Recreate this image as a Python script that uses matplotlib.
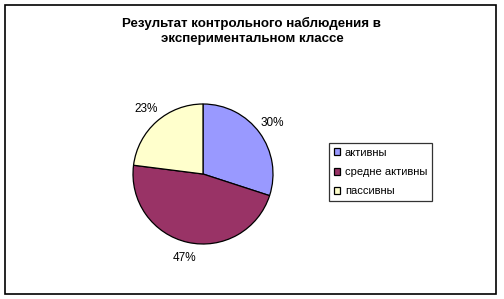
import matplotlib
matplotlib.use("Agg")
import matplotlib.pyplot as plt
from matplotlib.patches import Rectangle

plt.rcParams['font.family'] = ['Liberation Sans', 'DejaVu Sans']

title = "Результат контрольного наблюдения в\nэкспериментальном классе"
categories = ["активны", "средне активны", "пассивны"]
values = [30, 47, 23]
colors = ["#9999FF", "#993366", "#FFFFCC"]

W, H = 504, 299
fig = plt.figure(figsize=(W/100, H/100), dpi=100)
fig.patch.set_facecolor("white")

# outer frame
fig.add_artist(Rectangle((5/W, 1 - 293.5/H), 491/W, 288.5/H, transform=fig.transFigure,
                         fill=False, edgecolor="black", linewidth=1.2))

fig.text(252/W, 1 - 31/H, title, ha="center", va="center", fontsize=9.6,
         fontweight="bold", linespacing=1.4)

cx, cy, r = 203, 174, 70
ax = fig.add_axes([(cx - r)/W, 1 - (cy + r)/H, 2*r/W, 2*r/H])
wedges, texts, autotexts = ax.pie(values, colors=colors, startangle=90, counterclock=False,
                       wedgeprops=dict(edgecolor="black", linewidth=0.9),
                       autopct=lambda p: f"{p:.0f}%", pctdistance=1.23,
                       textprops=dict(fontsize=8.5))
ax.set_aspect("equal")
ax.set_xlim(-1, 1)
ax.set_ylim(-1, 1)

leg = fig.legend(wedges, categories, loc="center", bbox_to_anchor=(380.5/W, 1 - 172/H),
                 fontsize=8, frameon=True, fancybox=False, edgecolor="black",
                 handlelength=0.6, handleheight=0.6, handletextpad=0.4,
                 labelspacing=0.85, borderpad=0.4, borderaxespad=0)
leg.get_frame().set_linewidth(0.9)

fig.savefig("out.png", dpi=100)
